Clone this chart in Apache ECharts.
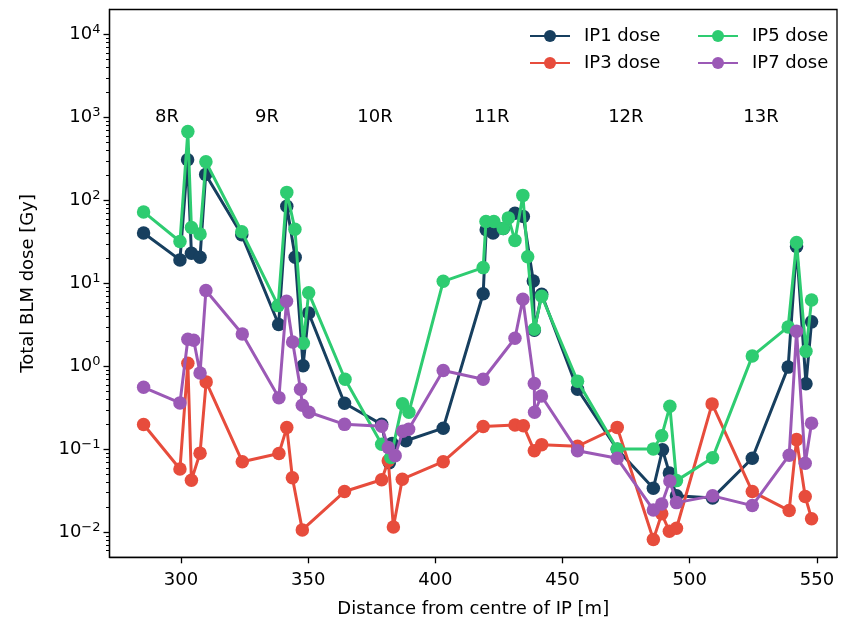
<!DOCTYPE html>
<html><head><meta charset="utf-8">
<script src="https://cdn.jsdelivr.net/npm/echarts@6/dist/echarts.min.js"></script>
<style>html,body{margin:0;padding:0;background:#fff}#c{width:850px;height:620px}</style>
</head><body><div id="c"></div>
<script>
// ---- data ----
const ip1X = [285.3,299.6,302.6,304.1,307.5,309.7,323.9,338.4,341.6,344.9,348.0,350.2,364.3,378.9,381.9,383.0,388.4,403.1,418.8,420.0,422.7,426.7,431.3,434.6,438.5,438.9,441.8,455.9,471.5,485.7,489.3,492.0,494.8,509.0,524.6,538.7,542.0,545.7,547.9];
const ip1Y = [40.5,19.2,309,23.1,20.7,205,38.5,3.2,85,20.7,1.02,4.4,0.36,0.20,0.069,0.118,0.127,0.18,7.5,44.4,40.4,46,70,64,10.7,2.73,7.4,0.53,0.10,0.034,0.099,0.052,0.0275,0.026,0.078,0.98,27.8,0.617,3.44];

const ip3X = [285.3,299.6,302.7,304.1,307.5,309.9,324.1,338.5,341.6,343.8,347.7,364.3,378.9,381.5,383.5,387.0,403.1,418.8,431.3,434.6,438.9,441.8,455.9,471.5,485.7,489.0,492.0,494.8,508.8,524.6,539.1,542.0,545.4,547.9];
const ip3Y = [0.199,0.058,1.09,0.0425,0.090,0.65,0.071,0.089,0.183,0.0455,0.0107,0.031,0.043,0.073,0.0116,0.0437,0.071,0.188,0.197,0.193,0.096,0.114,0.109,0.184,0.0082,0.0167,0.0103,0.0112,0.353,0.031,0.0183,0.131,0.027,0.0146];

const ip5X = [285.3,299.6,302.7,304.1,307.5,309.8,323.9,338.2,341.6,344.8,348.1,350.2,364.5,378.9,382.5,387.1,389.6,403.1,418.8,419.9,423.0,426.7,428.7,431.3,434.4,436.3,438.9,441.8,455.9,471.5,485.7,489.0,492.2,494.8,509.0,524.6,538.7,542.0,545.7,547.9];
const ip5Y = [72.7,32,675,47.2,39.3,292,41.9,5.4,125,45,1.9,7.7,0.70,0.115,0.08,0.355,0.28,10.6,15.5,55.6,55.6,46,61.6,33,115,21,2.8,7.0,0.664,0.101,0.101,0.146,0.33,0.042,0.079,1.33,2.99,31.1,1.52,6.3];

const ip7X = [285.3,299.6,302.7,305.0,307.5,309.8,324.1,338.5,341.5,343.9,347.0,347.7,350.3,364.3,378.9,381.5,384.2,387.2,389.5,403.1,418.8,431.3,434.4,438.9,439.0,441.7,455.9,471.5,485.7,489.0,492.2,494.8,509.0,524.6,539.1,542.0,545.4,547.9];
const ip7Y = [0.56,0.363,2.12,2.06,0.83,8.2,2.46,0.42,6.1,1.97,0.53,0.34,0.28,0.20,0.19,0.105,0.084,0.165,0.175,0.89,0.70,2.18,6.45,0.62,0.28,0.44,0.096,0.078,0.0186,0.022,0.0416,0.0228,0.0275,0.021,0.085,2.65,0.068,0.207];

const seriesNames = ['IP1 dose','IP3 dose','IP5 dose','IP7 dose'];
const seriesColors = ['#173f5f','#e74c3c','#2ecc71','#9b59b6'];

const regionNames = ['8R','9R','10R','11R','12R','13R'];
const regionX = [294.5,333.8,376.3,422.2,474.9,528.0];
const regionY = [1000,1000,1000,1000,1000,1000];

const xTicks = [300,350,400,450,500,550];
const yMajor = [0.01,0.1,1,10,100,1000,10000];
const xRange = [271.9,557.9];
const yRange = [0.005,20000];

// ---- build ----
const yMinor = [];
for (let e = -3; e <= 4; e++) {
  for (let m = 2; m <= 9; m++) {
    const v = m * Math.pow(10, e);
    if (v > yRange[0] && v < yRange[1]) yMinor.push(v);
  }
}
const zip = (xs, ys) => xs.map((x, i) => [x, ys[i]]);
const allX = [ip1X, ip3X, ip5X, ip7X];
const allY = [ip1Y, ip3Y, ip5Y, ip7Y];

const FONT = 'DejaVu Sans';
const sup = v => {
  const e = Math.round(Math.log10(v));
  return '{b|10}{s|' + (e < 0 ? '\u2212' + (-e) : e) + '}';
};

const chart = echarts.init(document.getElementById('c'), null, {renderer: 'canvas'});
const lineSeries = seriesNames.map((n, i) => ({
  name: n, type: 'line', data: zip(allX[i], allY[i]),
  xAxisIndex: 0, yAxisIndex: 0,
  symbol: 'circle', symbolSize: 13.5,
  lineStyle: {width: 3, color: seriesColors[i]},
  itemStyle: {color: seriesColors[i], borderWidth: 0},
  emphasis: {disabled: true}, animation: false, z: 2 + i
}));

chart.setOption({
  animation: false,
  textStyle: {fontFamily: FONT},
  grid: {left: 109.5, right: 13, top: 9.5, bottom: 62.7, show: true, borderColor: '#000', borderWidth: 1.3,
         backgroundColor: 'transparent', containLabel: false, outerBoundsMode: 'none'},
  legend: [
    {data: ['IP1 dose','IP3 dose'], orient: 'vertical', left: 524, top: 22, itemWidth: 40, itemHeight: 15, itemGap: 9,
     textStyle: {fontFamily: FONT, fontSize: 18, color: '#000', lineHeight: 18, padding: [0,0,0,9]}},
    {data: ['IP5 dose','IP7 dose'], orient: 'vertical', left: 692, top: 22, itemWidth: 40, itemHeight: 15, itemGap: 9,
     textStyle: {fontFamily: FONT, fontSize: 18, color: '#000', lineHeight: 18, padding: [0,0,0,9]}}
  ],
  xAxis: {
    type: 'value', min: xRange[0], max: xRange[1],
    name: 'Distance from centre of IP [m]', nameLocation: 'middle', nameGap: 43,
    nameTextStyle: {fontFamily: FONT, fontSize: 18, color: '#000'},
    axisLine: {show: true, lineStyle: {color: '#000', width: 1.3}},
    axisTick: {show: true, inside: false, length: 6, customValues: xTicks, lineStyle: {color: '#000', width: 1.3}},
    axisLabel: {show: true, customValues: xTicks, margin: 14, fontFamily: FONT, fontSize: 18, color: '#000'},
    splitLine: {show: false}
  },
  yAxis: [
    {
      type: 'log', logBase: 10, min: yRange[0], max: yRange[1], position: 'left',
      name: 'Total BLM dose [Gy]', nameLocation: 'middle', nameGap: 72, nameRotate: 90,
      nameTextStyle: {fontFamily: FONT, fontSize: 18, color: '#000'},
      axisLine: {show: true, lineStyle: {color: '#000', width: 1.3}},
      axisTick: {show: true, inside: false, length: 6, customValues: yMajor, lineStyle: {color: '#000', width: 1.3}},
      axisLabel: {show: true, customValues: yMajor, margin: 9, formatter: sup,
        rich: {b: {fontFamily: FONT, fontSize: 18, color: '#000'},
               s: {fontFamily: FONT, fontSize: 13, color: '#000', padding: [0,0,10,0]}}},
      splitLine: {show: false}
    },
    {
      type: 'log', logBase: 10, min: yRange[0], max: yRange[1], position: 'left', offset: 0,
      axisLine: {show: false},
      axisTick: {show: true, inside: false, length: 3.5, customValues: yMinor, lineStyle: {color: '#000', width: 1}},
      axisLabel: {show: false},
      splitLine: {show: false}
    }
  ],
  series: lineSeries.concat([{
    type: 'scatter', name: 'regions', data: zip(regionX, regionY).map((p, i) => ({value: p, name: regionNames[i]})),
    symbolSize: 1, itemStyle: {color: '#000', opacity: 0}, silent: true, z: 10,
    label: {show: true, position: 'inside', opacity: 1, textBorderWidth: 0, formatter: p => p.name,
            fontFamily: FONT, fontSize: 18, color: '#000'}
  }])
});
</script>
</body></html>
